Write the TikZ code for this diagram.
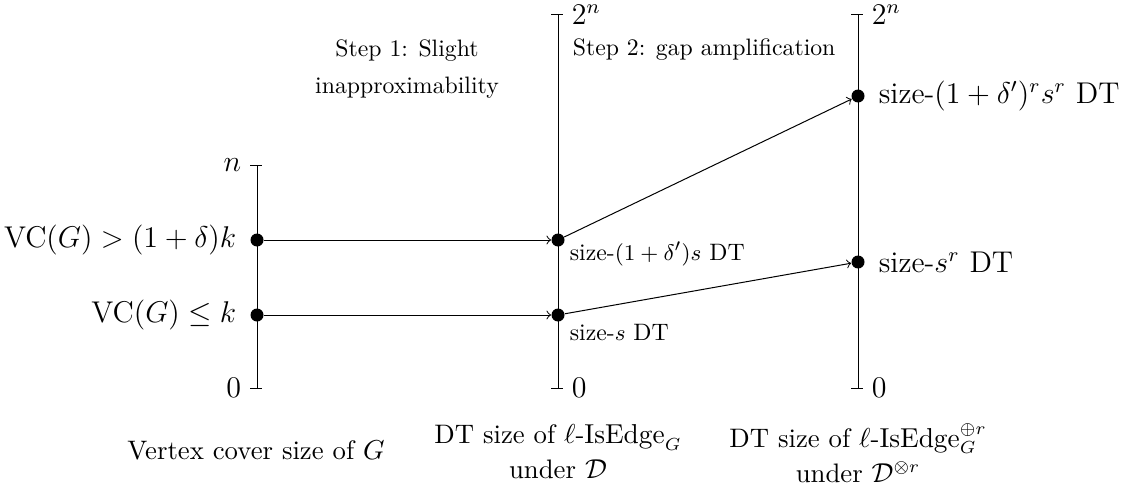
\documentclass[tikz,border=0pt]{standalone}
\usepackage{amsmath}
\usepackage{amssymb}
\usepackage{tikz}
\usetikzlibrary{positioning}

\begin{document}
\begin{tikzpicture}[
      x=0.4pt, y=-0.4pt,
      dot/.style={circle, fill, inner sep=0pt, minimum size=5.2pt},
      big/.style={font=\large},
      smalltext/.style={font=\fontsize{9.5}{11.5}\selectfont},
      steptext/.style={smalltext, align=center},
      axislabel/.style={align=center, font=\fontsize{10.7}{14}\selectfont}
    ]
    \useasboundingbox (0,0) rectangle (1124,486);

    % axes
    \coordinate (L0) at (257,388);
    \coordinate (Ln) at (257,165);
    \coordinate (M0) at (558,388);
    \coordinate (Mn) at (558,15);
    \coordinate (R0) at (858,388);
    \coordinate (Rn) at (858,15);

    \draw (L0) -- (Ln);
    \draw (M0) -- (Mn);
    \draw (R0) -- (Rn);

    \draw ([xshift=-2.8pt]L0) -- ([xshift=2pt]L0);
    \draw ([xshift=-2.8pt]Ln) -- ([xshift=2pt]Ln);
    \draw ([xshift=-2.8pt]M0) -- ([xshift=2pt]M0);
    \draw ([xshift=-2.8pt]Mn) -- ([xshift=2pt]Mn);
    \draw ([xshift=-2.8pt]R0) -- ([xshift=2pt]R0);
    \draw ([xshift=-2.8pt]Rn) -- ([xshift=2pt]Rn);

    \node[big, anchor=east] (lzero) at ([xshift=-2.8pt]L0) {$0$};
    \node[big, anchor=east] (ltop) at ([xshift=-2.8pt]Ln) {$n$};
    \node[big, anchor=west] (mzero) at ([xshift=2pt]M0) {$0$};
    \node[big, anchor=west] (mtop) at ([xshift=2pt]Mn) {$2^n$};
    \node[big, anchor=west] (rzero) at ([xshift=2pt]R0) {$0$};
    \node[big, anchor=west] (rtop) at ([xshift=2pt]Rn) {$2^n$};

    % points
    \node[dot] (l1) at (257,240) {};
    \node[dot] (l2) at (257,315) {};
    \node[dot] (m1) at (558,240) {};
    \node[dot] (m2) at (558,315) {};
    \node[dot] (r1) at (858,96) {};
    \node[dot] (r2) at (858,262) {};

    \node[big, anchor=east] (l1txt) at (245,240) {$\mathrm{VC}(G) > (1+\delta)k$};
    \node[big, anchor=east] (l2txt) at (245,315) {$\mathrm{VC}(G) \le k$};
    \node[smalltext, anchor=west] (m1txt) at (561,254) {size-$(1+\delta')s$ DT};
    \node[smalltext, anchor=west] (m2txt) at (561,333) {size-$s$ DT};
    \node[big, anchor=west] (r1txt) at (870,96) {size-$(1+\delta')^r s^r$ DT};
    \node[big, anchor=west] (r2txt) at (870,262) {size-$s^r$ DT};

    \draw[->] (l1) -- (m1);
    \draw[->] (l2) -- (m2);
    \draw[->] (m1) -- (r1);
    \draw[->] (m2) -- (r2);

    % steps
    \node[steptext] (step1) at (407,69) {Step 1: Slight\\[3.5pt]inapproximability};
    \node[steptext, anchor=west] (step2) at (564,50) {Step 2: gap amplification};

    % axis captions
    \node[axislabel] (lcap) at (256,450) {Vertex cover size of $G$};
    \node[axislabel] (mcap) at (558,452) {DT size of $\ell$-$\mathrm{IsEdge}_G$\\under $\mathcal{D}$};
    \node[axislabel] (rcap) at (858,453) {DT size of $\ell$-$\mathrm{IsEdge}_G^{\oplus r}$\\under $\mathcal{D}^{\otimes r}$};
  \end{tikzpicture}
\end{document}
